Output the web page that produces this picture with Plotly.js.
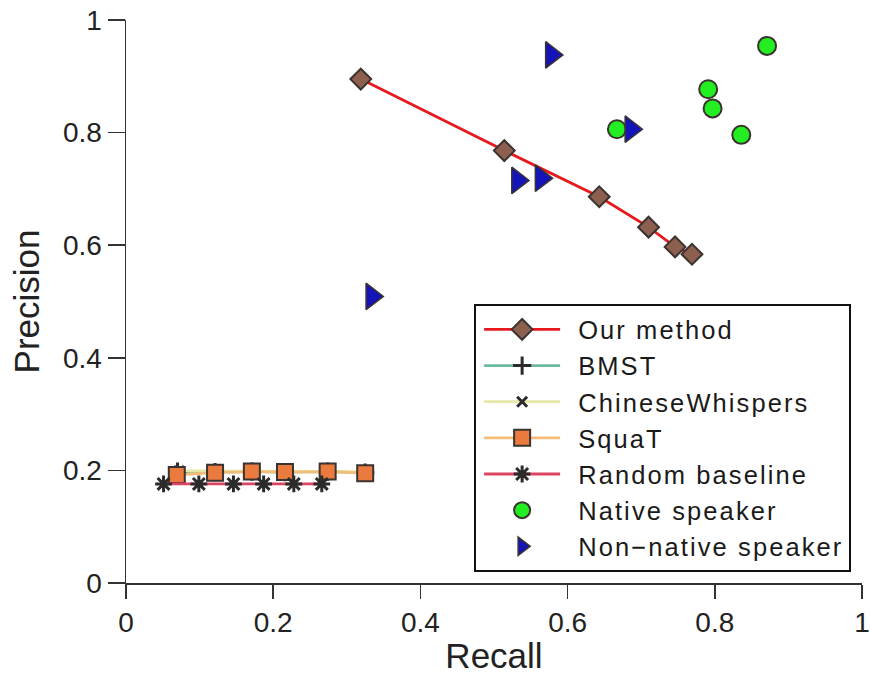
<!DOCTYPE html>
<html>
<head>
<meta charset="utf-8">
<script src="https://cdn.plot.ly/plotly-3.0.1.min.js"></script>
<style>
html,body{margin:0;padding:0;background:#fff;}
#chart{width:870px;height:675px;}
.legendtext{letter-spacing:2.1px;}
</style>
</head>
<body>
<div id="chart"></div>
<script>
// Data
const seriesNames = ["Our method", "BMST", "ChineseWhispers", "SquaT", "Random baseline", "Native speaker", "Non\u2212native speaker"];

const ourRecall    = [0.319, 0.514, 0.643, 0.710, 0.746, 0.769];
const ourPrecision = [0.895, 0.768, 0.686, 0.632, 0.597, 0.584];

const bmstRecall    = [0.070, 0.121, 0.171, 0.216, 0.274, 0.325];
const bmstPrecision = [0.198, 0.197, 0.198, 0.197, 0.198, 0.196];

const cwRecall    = [0.072, 0.122, 0.172, 0.218, 0.275, 0.326];
const cwPrecision = [0.199, 0.199, 0.199, 0.199, 0.199, 0.198];

const squatRecall    = [0.069, 0.121, 0.171, 0.216, 0.274, 0.325];
const squatPrecision = [0.192, 0.196, 0.198, 0.197, 0.198, 0.195];

const randRecall    = [0.051, 0.099, 0.146, 0.187, 0.228, 0.266];
const randPrecision = [0.176, 0.176, 0.176, 0.176, 0.176, 0.176];

const nativeRecall    = [0.871, 0.791, 0.797, 0.836, 0.667];
const nativePrecision = [0.954, 0.877, 0.843, 0.796, 0.806];

const nonNativeRecall    = [0.578, 0.686, 0.532, 0.564, 0.334];
const nonNativePrecision = [0.938, 0.806, 0.715, 0.719, 0.509];

const FONT = "Liberation Sans, Arial, Helvetica, sans-serif";
const EDGE = "#3a3330";

const traces = [
  {name: seriesNames[0], x: ourRecall, y: ourPrecision, mode: "lines+markers",
   line: {color: "#e8191e", width: 2.8},
   marker: {symbol: "diamond", size: 16, color: "#8c5f4f", line: {color: EDGE, width: 2}}},
  {name: seriesNames[1], x: bmstRecall, y: bmstPrecision, mode: "lines+markers",
   line: {color: "#6cb8a0", width: 2.8},
   marker: {symbol: "cross-thin-open", size: 13, color: "#2b2b2b", line: {color: "#2b2b2b", width: 3}}},
  {name: seriesNames[2], x: cwRecall, y: cwPrecision, mode: "lines+markers",
   line: {color: "#e6e8a6", width: 2.8},
   marker: {symbol: "x-thin-open", size: 10, color: "#2b2b2b", line: {color: "#2b2b2b", width: 3}}},
  {name: seriesNames[3], x: squatRecall, y: squatPrecision, mode: "lines+markers",
   line: {color: "#f4bc78", width: 2.8},
   marker: {symbol: "square", size: 16, color: "#ea7a3e", line: {color: EDGE, width: 2}}},
  {name: seriesNames[4], x: randRecall, y: randPrecision, mode: "lines+markers",
   line: {color: "#dd4461", width: 2.8},
   marker: {symbol: "asterisk-open", size: 14, color: "#2b2b2b", line: {color: "#2b2b2b", width: 3}}},
  {name: seriesNames[5], x: nativeRecall, y: nativePrecision, mode: "markers",
   marker: {symbol: "circle", size: 18, color: "#22ee22", line: {color: EDGE, width: 2}}},
  {name: seriesNames[6], x: nonNativeRecall, y: nonNativePrecision, mode: "markers",
   marker: {symbol: "triangle-right", size: 23, color: "#1414b8", line: {color: EDGE, width: 1.5}}}
];

const layout = {
  width: 870, height: 675,
  margin: {l: 126, r: 8, t: 20, b: 92},
  paper_bgcolor: "#fff", plot_bgcolor: "#fff",
  font: {family: FONT, color: "#222", size: 28},
  showlegend: true,
  legend: {
    x: 0.473, y: 0.495, xanchor: "left", yanchor: "top",
    bgcolor: "#fff", bordercolor: "#111", borderwidth: 2,
    font: {family: FONT, size: 25.5, color: "#1a1a1a"},
    itemwidth: 92, tracegroupgap: 0
  },
  xaxis: {
    range: [0, 1], dtick: 0.2, tick0: 0, showgrid: false, zeroline: false,
    showline: true, linecolor: "#333", linewidth: 1.5,
    ticks: "outside", ticklen: 14, tickwidth: 1.5, tickcolor: "#333",
    tickfont: {family: FONT, size: 28, color: "#222"},
    title: {text: "Recall", font: {family: FONT, size: 35, color: "#222"}, standoff: 6}
  },
  yaxis: {
    range: [0, 1], dtick: 0.2, tick0: 0, showgrid: false, zeroline: false,
    showline: true, linecolor: "#333", linewidth: 1.5,
    ticks: "outside", ticklen: 17, tickwidth: 1.5, tickcolor: "#333",
    tickfont: {family: FONT, size: 28, color: "#222"},
    title: {text: "Precision", font: {family: FONT, size: 35, color: "#222"}, standoff: 12}
  }
};

Plotly.newPlot("chart", traces, layout, {displayModeBar: false, staticPlot: true}).then(function (gd) {
  // lengthen the legend line samples and recentre their markers (style only)
  gd.querySelectorAll(".legend .traces").forEach(function (tr) {
    tr.querySelectorAll(".legendlines path").forEach(function (p) {
      p.setAttribute("d", "M8,0h76");
    });
    tr.querySelectorAll(".legendpoints path").forEach(function (p) {
      p.setAttribute("transform", "translate(46,0)");
    });
  });
});
</script>
</body>
</html>
